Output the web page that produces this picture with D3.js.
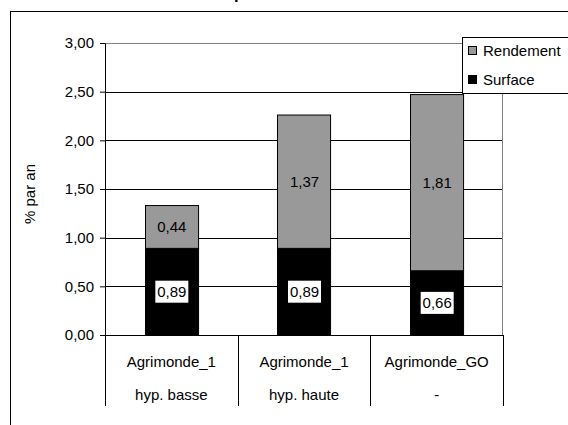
<!DOCTYPE html>
<html>
<head>
<meta charset="utf-8">
<script src="https://cdn.jsdelivr.net/npm/d3@7"></script>
<style>
  body { margin: 0; background: #fff; }
  svg { display: block; font-family: "Liberation Sans", Arial, sans-serif; }
</style>
</head>
<body>
<div id="chart"></div>
<script>
// data
const categories = ['Agrimonde_1|hyp. basse', 'Agrimonde_1|hyp. haute', 'Agrimonde_GO|-'];
const surface    = [0.89, 0.89, 0.66];
const rendement  = [0.44, 1.37, 1.81];
const yTicks     = [0, 0.5, 1, 1.5, 2, 2.5, 3];
const seriesNames = ['Rendement', 'Surface'];
const seriesColors = { Surface: '#000000', Rendement: '#999999' };

const W = 568, H = 425;
const m = { top: 43, right: 65, bottom: 90, left: 105 };
const w = W - m.left - m.right;   // 398
const h = H - m.top - m.bottom;   // 292
const FS = 15;

const fmt = v => d3.format('.2f')(v).replace('.', ',');

const svg = d3.select('#chart').append('svg').attr('width', W).attr('height', H);

// outer chart frame (runs past the window)
svg.append('rect').attr('x', 10.5).attr('y', 11.5).attr('width', 600).attr('height', 500)
  .attr('fill', 'none').attr('stroke', '#000').attr('stroke-width', 1);

// title, mostly cut off at the top
svg.append('text').attr('x', 291).attr('y', -1).attr('text-anchor', 'middle')
  .attr('font-weight', 'bold').attr('font-size', 17).text('Afrique subsaharienne');

const g = svg.append('g').attr('transform', `translate(${m.left},${m.top})`);

const x = d3.scaleBand().domain(categories).range([0, w]).paddingInner(0.6).paddingOuter(0.3);
const y = d3.scaleLinear().domain([0, 3]).range([h, 0]);

// grid
g.append('g').selectAll('line').data(yTicks.filter(d => d > 0 && d < 3)).join('line')
  .attr('x1', 0).attr('x2', w)
  .attr('y1', d => Math.round(y(d)) + 0.5).attr('y2', d => Math.round(y(d)) + 0.5)
  .attr('stroke', '#000').attr('stroke-width', 1);
// plot area top / right border
g.append('path').attr('d', `M0,${y(3) + 0.5}H${w - 0.5}V${h}`)
  .attr('fill', 'none').attr('stroke', '#808080');

// y axis
const yAxis = g.append('g')
  .call(d3.axisLeft(y).tickValues(yTicks).tickSize(5).tickPadding(6).tickFormat(fmt));
yAxis.select('.domain').attr('stroke', '#000');
yAxis.selectAll('text').attr('font-size', FS).attr('fill', '#000')
  .attr('font-family', '"Liberation Sans", Arial, sans-serif');

g.append('text').attr('transform', 'rotate(-90)').attr('x', -(y(1.5) + 5)).attr('y', -70)
  .attr('text-anchor', 'middle').attr('font-size', FS).text('% par an');

// stacked bars
const stack = categories.map((c, i) => ({ cat: c, surface: surface[i], rendement: rendement[i] }));
const bars = g.append('g').selectAll('g').data(stack).join('g');

bars.append('rect')
  .attr('x', d => Math.round(x(d.cat)) + 0.5).attr('width', x.bandwidth())
  .attr('y', d => y(d.surface)).attr('height', d => y(0) - y(d.surface))
  .attr('fill', seriesColors.Surface).attr('stroke', '#000');
bars.append('rect')
  .attr('x', d => Math.round(x(d.cat)) + 0.5).attr('width', x.bandwidth())
  .attr('y', d => y(d.surface + d.rendement)).attr('height', d => y(d.surface) - y(d.surface + d.rendement))
  .attr('fill', seriesColors.Rendement).attr('stroke', '#000');

// value labels
bars.append('text')
  .attr('x', d => x(d.cat) + x.bandwidth() / 2 + 0.5)
  .attr('y', d => y(d.surface + d.rendement / 2) + 5)
  .attr('text-anchor', 'middle').attr('font-size', FS).text(d => fmt(d.rendement));

bars.append('rect')
  .attr('x', d => x(d.cat) + x.bandwidth() / 2 - 16)
  .attr('y', d => y(d.surface / 2) - 11)
  .attr('width', 33).attr('height', 22).attr('fill', '#fff');
bars.append('text')
  .attr('x', d => x(d.cat) + x.bandwidth() / 2 + 0.5)
  .attr('y', d => y(d.surface / 2) + 5.5)
  .attr('text-anchor', 'middle').attr('font-size', FS).text(d => fmt(d.surface));

// x axis line and category table
g.append('line').attr('x1', -5).attr('x2', w).attr('y1', h + 0.5).attr('y2', h + 0.5).attr('stroke', '#000');
const step = x.step();
const x0 = x(categories[0]) - x.paddingOuter() * step;
const divs = d3.range(categories.length + 1).map(i => x0 + i * step);
g.append('g').selectAll('line').data(divs).join('line')
  .attr('x1', d => Math.round(d) + 0.5).attr('x2', d => Math.round(d) + 0.5)
  .attr('y1', h).attr('y2', h + 71).attr('stroke', '#000');

const cats = g.append('g').selectAll('g').data(categories).join('g')
  .attr('transform', d => `translate(${x(d) + x.bandwidth() / 2},${h})`);
cats.append('text').attr('y', 32).attr('text-anchor', 'middle').attr('font-size', FS)
  .text(d => d.split('|')[0]);
cats.append('text').attr('y', 65).attr('text-anchor', 'middle').attr('font-size', FS)
  .text(d => d.split('|')[1]);

// legend
const lg = svg.append('g').attr('transform', 'translate(462,37)');
lg.append('rect').attr('x', 0.5).attr('y', 0.5).attr('width', 200).attr('height', 56)
  .attr('fill', '#fff').attr('stroke', '#000');
const items = lg.selectAll('g.item').data(seriesNames).join('g').attr('class', 'item')
  .attr('transform', (d, i) => `translate(6,${9 + i * 29})`);
items.append('rect').attr('x', 0.5).attr('y', 0.5).attr('width', 8).attr('height', 8)
  .attr('fill', d => seriesColors[d]).attr('stroke', '#000');
items.append('text').attr('x', 15).attr('y', 10).attr('font-size', FS).text(d => d);
</script>
</body>
</html>
